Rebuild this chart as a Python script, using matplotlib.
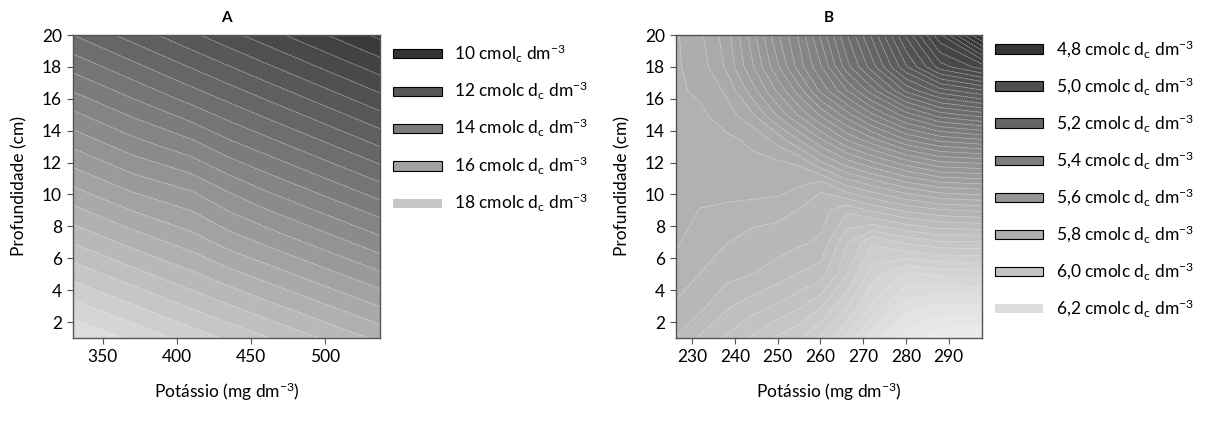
import numpy as np
import matplotlib
matplotlib.use("Agg")
import matplotlib.pyplot as plt
from matplotlib.colors import LinearSegmentedColormap
from matplotlib.patches import Patch

plt.rcParams['font.family'] = ['Lato', 'DejaVu Sans']
plt.rcParams['mathtext.fontset'] = 'custom'
plt.rcParams['mathtext.rm'] = 'Lato'
plt.rcParams['mathtext.it'] = 'Lato'
plt.rcParams['font.size'] = 12

# --- panel A data ---
pot_a = [330, 370, 410, 435, 460, 500, 537]
prof_a = [1, 4, 7, 10, 13, 16, 20]
val_a = [
    [19.40, 18.92, 18.43, 18.13, 17.83, 17.35, 16.90],
    [18.39, 17.90, 17.40, 17.09, 16.78, 16.29, 15.83],
    [17.38, 16.87, 16.41, 16.04, 15.73, 15.22, 14.75],
    [16.37, 15.85, 15.48, 15.05, 14.68, 14.16, 13.68],
    [15.36, 14.82, 14.37, 13.96, 13.63, 13.10, 12.60],
    [14.35, 13.81, 13.26, 12.92, 12.58, 12.04, 11.53],
    [13.00, 12.44, 11.88, 11.53, 11.18, 10.62, 10.10],
]
leg_a = [10, 12, 14, 16, 18]
lab_a = ["10 cmol$_{c}$ dm$^{-3}$", "12 cmolc d$_{c}$ dm$^{-3}$",
         "14 cmolc d$_{c}$ dm$^{-3}$", "16 cmolc d$_{c}$ dm$^{-3}$",
         "18 cmolc d$_{c}$ dm$^{-3}$"]

# --- panel B data ---
pot_b = [226, 232, 238, 244, 250, 255, 260, 266, 272, 280, 288, 298]
prof_b = [1, 3, 5, 7, 9, 10.5, 12, 13.5, 15, 16.5, 18, 20]
val_b = [
    [5.906, 5.94, 5.97, 6.00, 6.03, 6.05, 6.09, 6.15, 6.22, 6.28, 6.32, 6.33],
    [5.878, 5.898, 5.93, 5.95, 5.97, 5.99, 6.02, 6.08, 6.15, 6.22, 6.245, 6.24],
    [5.86, 5.876, 5.895, 5.905, 5.92, 5.937, 5.95, 6.02, 6.10, 6.15, 6.14, 6.13],
    [5.84, 5.862, 5.874, 5.886, 5.89, 5.90, 5.91, 5.99, 6.05, 6.02, 6.00, 6.00],
    [5.82, 5.848, 5.855, 5.862, 5.866, 5.877, 5.89, 5.93, 5.90, 5.87, 5.85, 5.84],
    [5.82, 5.82, 5.825, 5.825, 5.83, 5.845, 5.87, 5.82, 5.79, 5.75, 5.72, 5.71],
    [5.82, 5.82, 5.82, 5.82, 5.82, 5.81, 5.76, 5.71, 5.67, 5.62, 5.58, 5.57],
    [5.82, 5.82, 5.82, 5.81, 5.77, 5.72, 5.665, 5.60, 5.55, 5.48, 5.44, 5.42],
    [5.82, 5.82, 5.80, 5.76, 5.69, 5.63, 5.57, 5.50, 5.43, 5.35, 5.29, 5.26],
    [5.82, 5.81, 5.78, 5.71, 5.63, 5.56, 5.48, 5.40, 5.32, 5.21, 5.14, 5.10],
    [5.82, 5.80, 5.75, 5.67, 5.58, 5.50, 5.43, 5.32, 5.23, 5.10, 4.99, 4.93],
    [5.82, 5.79, 5.74, 5.65, 5.55, 5.48, 5.39, 5.28, 5.18, 5.03, 4.89, 4.72],
]
leg_b = [4.8, 5.0, 5.2, 5.4, 5.6, 5.8, 6.0, 6.2]
lab_b = [f"{v:.1f}".replace(".", ",") + " cmolc d$_{c}$ dm$^{-3}$" for v in leg_b]

gray = LinearSegmentedColormap.from_list("g", ["#2a2a2a", "#f4f4f4"])

W, H = 1218, 421
fig = plt.figure(figsize=(W / 100, H / 100), dpi=100)


def box(l, t, r, b):
    return [l / W, 1 - b / H, (r - l) / W, (b - t) / H]


def panel(rect, x, y, z, lev, vmin, vmax, xlim, xticks, title, leg_vals, leg_labels, leg_y):
    ax = fig.add_axes(rect)
    z = np.array(z)
    ax.contourf(x, y, z, levels=lev, cmap=gray, vmin=vmin, vmax=vmax)
    ax.contour(x, y, z, levels=lev, colors='#e8e8e8', linewidths=0.45,
               linestyles=[(0, (2, 1))], alpha=0.8)
    ax.set_xlim(*xlim)
    ax.set_ylim(1, 20)
    ax.set_xticks(xticks)
    ax.set_yticks(range(2, 21, 2))
    for s in ax.spines.values():
        s.set_color('#555555')
        s.set_linewidth(1)
    ax.tick_params(direction='out', length=4, color='#555555', labelsize=12.5, pad=4)
    ax.set_xlabel("Potássio (mg dm$^{-3}$)", fontsize=12.5, labelpad=11)
    ax.set_ylabel("Profundidade (cm)", fontsize=12.5)
    ax.yaxis.set_label_coords(-0.15, 0.5)
    ax.set_title(title, fontsize=11, fontweight='bold', pad=9)
    norm = plt.Normalize(vmin, vmax)
    handles = []
    for i, v in enumerate(leg_vals):
        last = i == len(leg_vals) - 1
        handles.append(Patch(facecolor=gray(norm(v)),
                             edgecolor='none' if last else 'black', linewidth=0.8))
    ax.legend(handles, leg_labels, loc='upper left', bbox_to_anchor=(1.042, leg_y),
              frameon=False, borderpad=0, borderaxespad=0, handlelength=2.8,
              handleheight=0.45, handletextpad=0.7, labelspacing=0.88, fontsize=12.5)
    return ax


panel(box(73, 35, 380, 338), pot_a, prof_a, val_a, np.arange(9.8, 20.2, 0.4), 9.5, 20.5,
      (330, 537), [350, 400, 450, 500], "A", leg_a, lab_a, 0.975)
panel(box(676, 35, 982, 338), pot_b, prof_b, val_b, np.arange(4.705, 6.41, 0.03), 4.7, 6.4,
      (226.2, 297.8), list(range(230, 291, 10)), "B", leg_b, lab_b, 0.99)

fig.savefig("out.png", dpi=100)
